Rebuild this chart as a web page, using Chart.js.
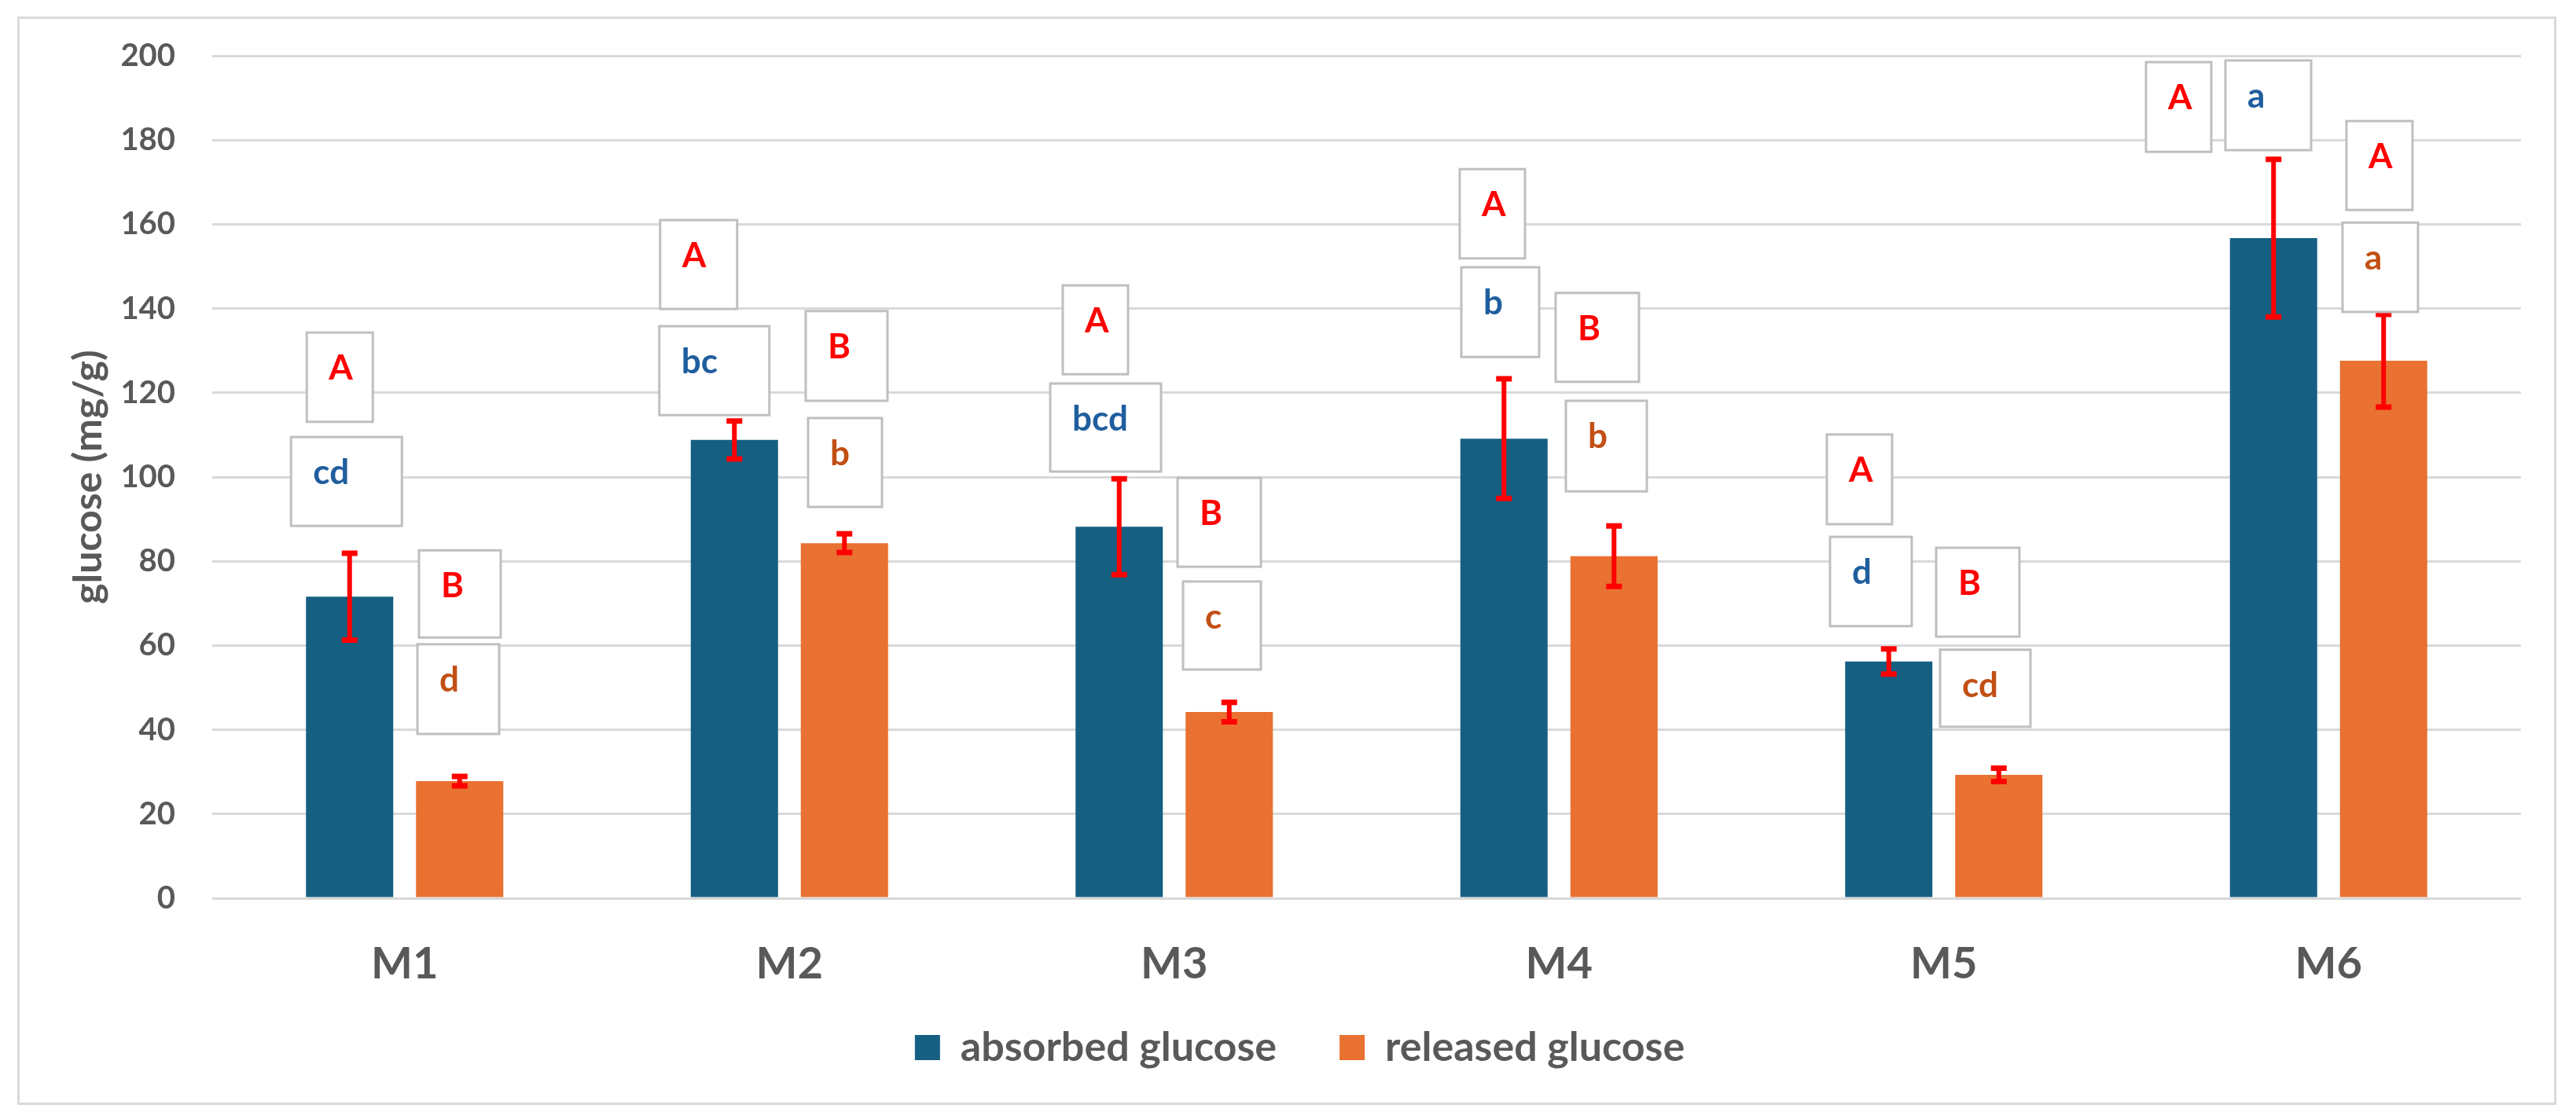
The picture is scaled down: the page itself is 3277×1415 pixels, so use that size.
<!DOCTYPE html>
<html>
<head>
<meta charset="utf-8">
<script src="https://cdn.jsdelivr.net/npm/chart.js@4.4.1/dist/chart.umd.min.js"></script>
<style>
  html, body { margin: 0; padding: 0; background: #ffffff; }
  #wrap { width: 3277px; height: 1415px; position: relative; }
</style>
</head>
<body>
<div id="wrap"><canvas id="c" width="3277" height="1415"></canvas></div>
<script>
// ---------- data ----------
const categories = ['M1', 'M2', 'M3', 'M4', 'M5', 'M6'];
const seriesNames = ['absorbed glucose', 'released glucose'];
const absorbed = [71.6, 108.8, 88.2, 109.1, 56.2, 156.7];
const absorbedErr = [10.3, 4.5, 11.4, 14.2, 3.0, 18.7];
const released = [27.8, 84.3, 44.2, 81.2, 29.3, 127.6];
const releasedErr = [1.1, 2.2, 2.3, 7.2, 1.6, 11.0];
const absorbedCaps = ['A', 'A', 'A', 'A', 'A', 'A'];
const absorbedLetters = ['cd', 'bc', 'bcd', 'b', 'd', 'a'];
const releasedCaps = ['B', 'B', 'B', 'B', 'B', 'A'];
const releasedLetters = ['d', 'b', 'c', 'b', 'cd', 'a'];
const yTicks = { min: 0, max: 200, step: 20 };
const yTitle = 'glucose (mg/g)';

// ---------- layout of the letter boxes (value range top/bottom, pixel offsets from bar centre) ----------
const capBoxes = [
  [[134.3, 113.1, -54.5, 29.5], [82.6, 61.9, -51.75, 52.25]],
  [[161.0, 139.9, -94.5, 3.5], [139.4, 118.1, -49.25, 54.75]],
  [[145.5, 124.4, -71.75, 11.25], [99.8, 78.7, -65.75, 40.25]],
  [[173.1, 151.9, -56.25, 26.75], [143.7, 122.6, -74.25, 31.75]],
  [[110.1, 88.8, -78.75, 4.25], [83.2, 62.1, -79.75, 26.25]],
  [[198.5, 177.2, -162.25, -79.25], [184.5, 163.4, -47.25, 36.75]]
];
const letterBoxes = [
  [[109.5, 88.4, -74.5, 66.5], [60.3, 39.0, -53.75, 50.25]],
  [[135.8, 114.7, -95.5, 44.5], [114.0, 92.9, -46.25, 47.75]],
  [[122.2, 101.3, -87.75, 53.25], [75.2, 54.3, -58.75, 40.25]],
  [[149.8, 128.5, -54.25, 44.75], [118.1, 96.6, -61.25, 41.75]],
  [[85.8, 64.6, -74.75, 29.25], [59.0, 40.7, -74.75, 40.25]],
  [[198.9, 177.6, -61.25, 47.75], [160.4, 139.2, -52.25, 43.75]]
];

const FONT = 'Lato, "Liberation Sans", Arial, sans-serif';
const GREY = '#595959';
const seriesColors = ['#156082', '#E97132'];
const letterColors = ['#1F5E9E', '#C24F14'];

const framePlugin = {
  id: 'frame',
  beforeDraw(chart) {
    const ctx = chart.ctx;
    ctx.save();
    ctx.fillStyle = '#ffffff';
    ctx.fillRect(0, 0, chart.width, chart.height);
    ctx.strokeStyle = '#D9D9D9';
    ctx.lineWidth = 3;
    ctx.strokeRect(23.5, 22.5, 3227, 1382);
    ctx.restore();
  }
};

// lift the legend row so that it sits where the reference has it
const legendShift = {
  id: 'legendShift',
  afterLayout(chart) {
    if (chart.legend) { chart.legend.top -= 46; chart.legend.bottom -= 46; }
  }
};

const errorPlugin = {
  id: 'errbars',
  afterDatasetsDraw(chart) {
    const ctx = chart.ctx;
    const y = chart.scales.y;
    const errs = [absorbedErr, releasedErr];
    const vals = [absorbed, released];
    ctx.save();
    ctx.strokeStyle = '#FF0000';
    for (let s = 0; s < 2; s++) {
      const meta = chart.getDatasetMeta(s);
      meta.data.forEach((bar, i) => {
        const yt = y.getPixelForValue(vals[s][i] + errs[s][i]);
        const yb = y.getPixelForValue(vals[s][i] - errs[s][i]);
        ctx.lineWidth = 6;
        ctx.beginPath();
        ctx.moveTo(bar.x, yt); ctx.lineTo(bar.x, yb);
        ctx.stroke();
        ctx.lineWidth = 7;
        ctx.beginPath();
        ctx.moveTo(bar.x - 10, yt); ctx.lineTo(bar.x + 10, yt);
        ctx.moveTo(bar.x - 10, yb); ctx.lineTo(bar.x + 10, yb);
        ctx.stroke();
      });
    }
    ctx.restore();
  }
};

const letterPlugin = {
  id: 'letters',
  afterDraw(chart) {
    const ctx = chart.ctx;
    const y = chart.scales.y;
    const caps = [absorbedCaps, releasedCaps];
    const lows = [absorbedLetters, releasedLetters];
    ctx.save();
    ctx.font = 'bold 44px ' + FONT;
    ctx.textBaseline = 'middle';
    ctx.textAlign = 'left';
    for (let s = 0; s < 2; s++) {
      const meta = chart.getDatasetMeta(s);
      meta.data.forEach((bar, i) => {
        const items = [[capBoxes[i][s], caps[s][i], '#FF0000'], [letterBoxes[i][s], lows[s][i], letterColors[s]]];
        items.forEach(([b, txt, col]) => {
          const x0 = bar.x + b[2], x1 = bar.x + b[3];
          const y0 = y.getPixelForValue(b[0]), y1 = y.getPixelForValue(b[1]);
          ctx.fillStyle = '#ffffff';
          ctx.fillRect(x0, y0, x1 - x0, y1 - y0);
          ctx.strokeStyle = '#BFBFBF';
          ctx.lineWidth = 3;
          ctx.strokeRect(x0, y0, x1 - x0, y1 - y0);
          ctx.fillStyle = col;
          ctx.fillText(txt, x0 + 28, y0 + 46);
        });
      });
    }
    ctx.restore();
  }
};

new Chart(document.getElementById('c'), {
  type: 'bar',
  data: {
    labels: categories,
    datasets: [
      { label: seriesNames[0], data: absorbed, backgroundColor: seriesColors[0], categoryPercentage: 0.572, barPercentage: 0.793 },
      { label: seriesNames[1], data: released, backgroundColor: seriesColors[1], categoryPercentage: 0.572, barPercentage: 0.793 }
    ]
  },
  options: {
    responsive: false,
    animation: false,
    devicePixelRatio: 1,
    layout: { padding: { left: 100, right: 70, top: 71, bottom: 0 } },
    scales: {
      x: {
        grid: { display: false, drawTicks: false },
        border: { display: false },
        ticks: { color: GREY, font: { family: FONT, size: 56, weight: 'bold' }, padding: 50 },
        afterFit(s) { s.height = 130; }
      },
      y: {
        min: yTicks.min, max: yTicks.max,
        ticks: { stepSize: yTicks.step, color: GREY, font: { family: FONT, size: 40, weight: 'bold' }, padding: 47 },
        grid: { color: '#D9D9D9', lineWidth: 3, drawTicks: false },
        border: { display: false },
        title: { display: true, text: yTitle, color: GREY, font: { family: FONT, size: 50, weight: 'bold' }, padding: { top: -17, bottom: 0 } },
        afterFit(s) { s.width = 170; }
      }
    },
    plugins: {
      legend: {
        position: 'bottom',
        labels: { boxWidth: 32, boxHeight: 32, padding: 80, color: GREY, font: { family: FONT, size: 52, weight: 'bold' } }
      },
      tooltip: { enabled: false }
    }
  },
  plugins: [framePlugin, legendShift, errorPlugin, letterPlugin]
});
</script>
</body>
</html>
